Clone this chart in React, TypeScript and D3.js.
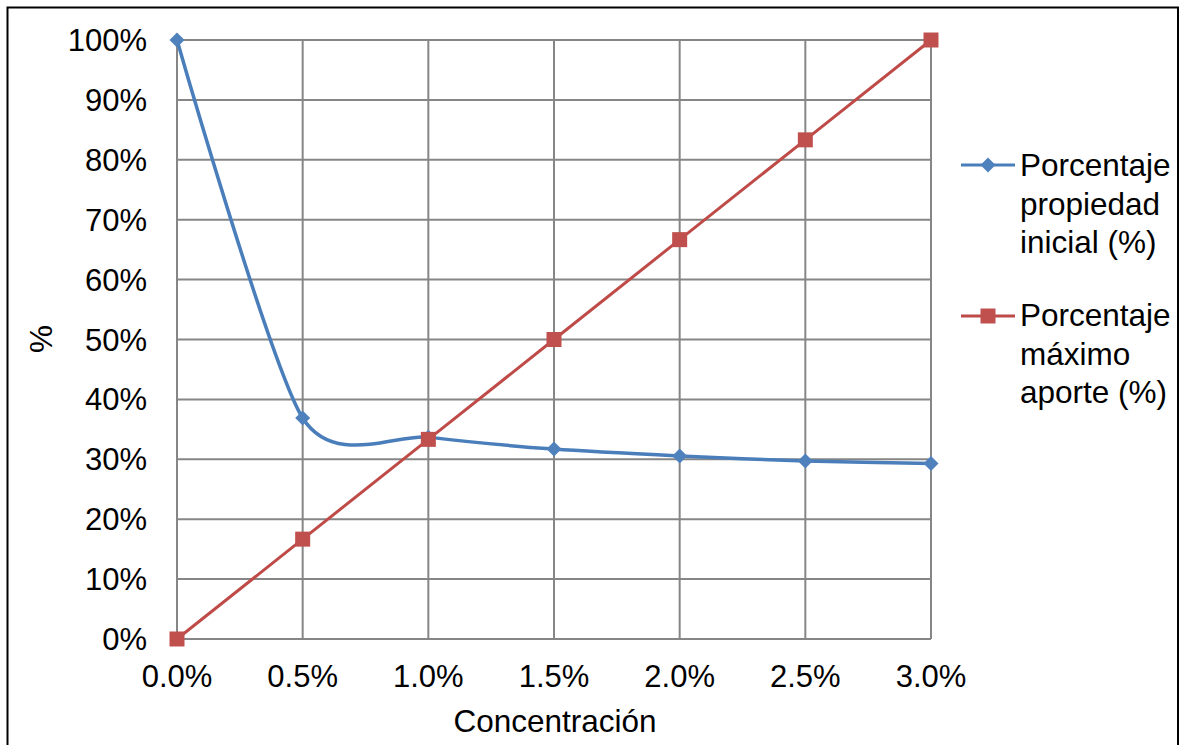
import React from "react";
import * as d3 from "d3";

const concentrations = [0, 0.5, 1.0, 1.5, 2.0, 2.5, 3.0];
const propiedadInicial = [100, 36.9, 33.7, 31.7, 30.55, 29.7, 29.3];
const maximoAporte = [0, 16.67, 33.33, 50, 66.67, 83.33, 100];
const xTicks = [0, 0.5, 1.0, 1.5, 2.0, 2.5, 3.0];
const yTicks = [0, 10, 20, 30, 40, 50, 60, 70, 80, 90, 100];
const seriesNames = [["Porcentaje", "propiedad", "inicial (%)"], ["Porcentaje", "máximo", "aporte (%)"]];

const W = 1180, H = 745;
const FONT = "'Liberation Sans', Arial, sans-serif";
const BLUE = "#4A7EBB", RED = "#BE4B48";
const BLUE_M = "#4F81BD", RED_M = "#C0504D";

export default function App() {
  const x = d3.scaleLinear().domain([0, 3]).range([177, 931]);
  const y = d3.scaleLinear().domain([0, 100]).range([639, 40]);
  const blueLine = d3.line<number>().x((_, i) => x(concentrations[i])).y(d => y(d)).curve(d3.curveCardinal.tension(0.25));
  const redLine = d3.line<number>().x((_, i) => x(concentrations[i])).y(d => y(d));
  const diamond = (cx: number, cy: number, r = 7.5) => `M${cx},${cy - r}L${cx + r},${cy}L${cx},${cy + r}L${cx - r},${cy}Z`;
  const fs = 31;
  const lfs = 31.5;
  const sq = 15;
  return (
    <svg width={W} height={H} style={{ position: "absolute", left: 0, top: 0, fontFamily: FONT }}>
      <rect x={0} y={0} width={W} height={H} fill="#fff" />
      <rect x={7.5} y={7.5} width={1170.5} height={745} fill="none" stroke="#000" strokeWidth={2} />
      {yTicks.map(t => (
        <line key={"gy" + t} x1={x(0)} x2={x(3)} y1={y(t)} y2={y(t)} stroke="#868686" strokeWidth={2} />
      ))}
      {xTicks.map(t => (
        <line key={"gx" + t} x1={x(t)} x2={x(t)} y1={y(0)} y2={y(100)} stroke="#868686" strokeWidth={2} />
      ))}
      {yTicks.map(t => (
        <text key={"ty" + t} x={147} y={y(t) + 11} textAnchor="end" fontSize={fs} fill="#000">{t + "%"}</text>
      ))}
      {xTicks.map(t => (
        <text key={"tx" + t} x={x(t)} y={687} textAnchor="middle" fontSize={fs} fill="#000">{t.toFixed(1) + "%"}</text>
      ))}
      <text x={555} y={732} textAnchor="middle" fontSize={lfs} fill="#000">Concentración</text>
      <text transform={`translate(52,339) rotate(-90)`} textAnchor="middle" fontSize={lfs} fill="#000">%</text>
      <path d={redLine(maximoAporte) || ""} fill="none" stroke={RED} strokeWidth={3} />
      <path d={blueLine(propiedadInicial) || ""} fill="none" stroke={BLUE} strokeWidth={3.5} />
      {propiedadInicial.map((v, i) => (
        <path key={"bm" + i} d={diamond(x(concentrations[i]), y(v))} fill={BLUE_M} />
      ))}
      {maximoAporte.map((v, i) => (
        <rect key={"rm" + i} x={x(concentrations[i]) - sq / 2} y={y(v) - sq / 2} width={sq} height={sq} fill={RED_M} />
      ))}
      <line x1={961} x2={1015} y1={165} y2={165} stroke={BLUE} strokeWidth={3} />
      <path d={diamond(988, 165)} fill={BLUE_M} />
      <line x1={961} x2={1015} y1={316} y2={316} stroke={RED} strokeWidth={3} />
      <rect x={988 - sq / 2} y={316 - sq / 2} width={sq} height={sq} fill={RED_M} />
      {seriesNames[0].map((s, i) => (
        <text key={"l0" + i} x={1020} y={176 + i * 38.5} fontSize={lfs} fill="#000">{s}</text>
      ))}
      {seriesNames[1].map((s, i) => (
        <text key={"l1" + i} x={1020} y={326 + i * 38.5} fontSize={lfs} fill="#000">{s}</text>
      ))}
    </svg>
  );
}
